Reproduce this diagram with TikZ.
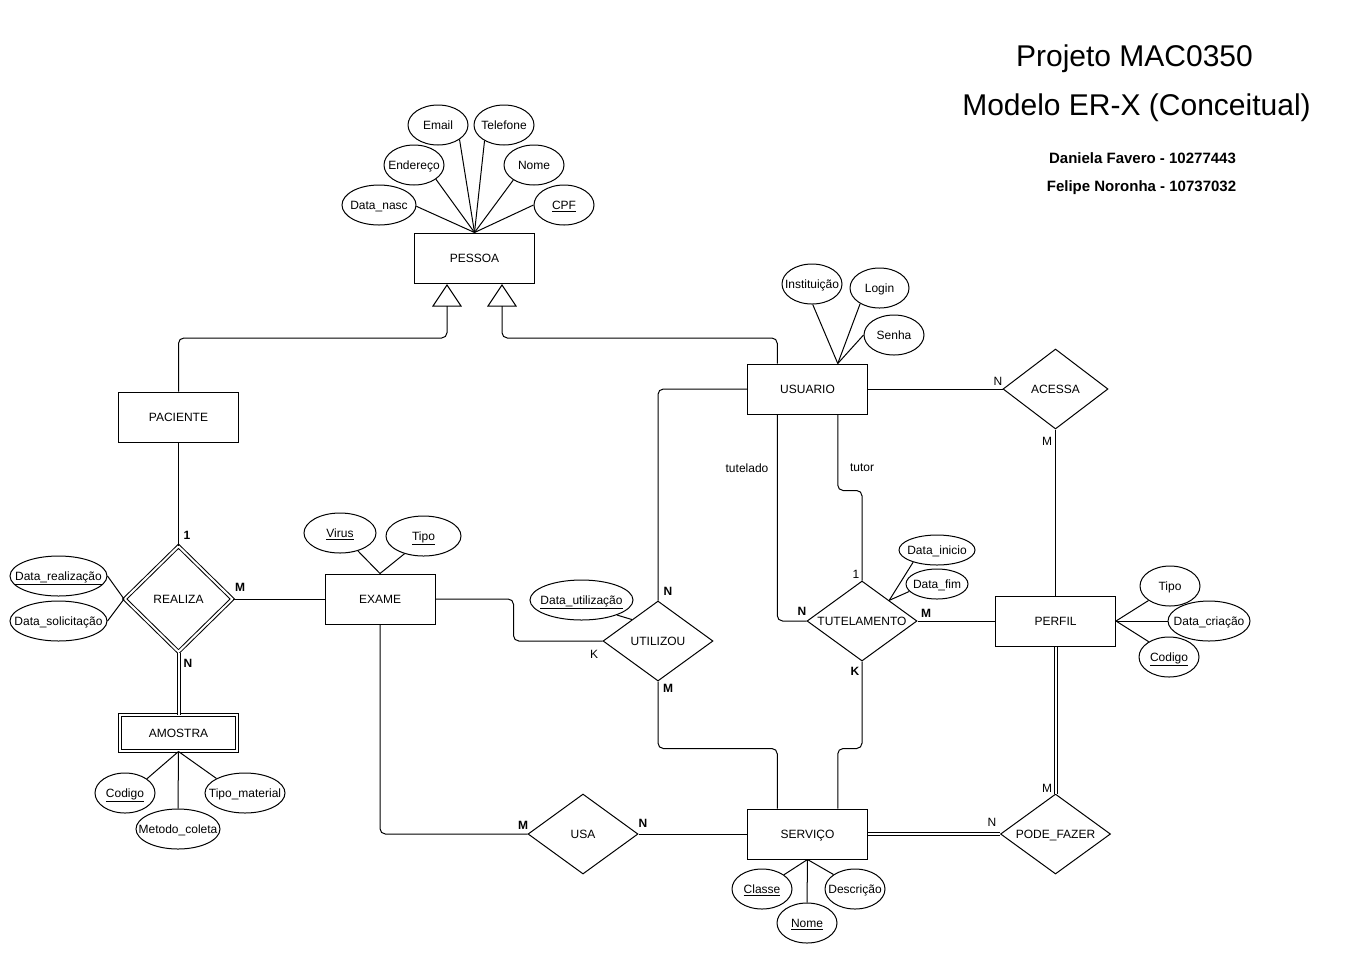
\documentclass[tikz,border=0pt]{standalone}
\usepackage{fontspec}
\setmainfont{Liberation Sans}
\usetikzlibrary{shapes.geometric,calc}
\newcommand{\zt}[1]{\makebox[0pt][c]{#1}}
\begin{document}
\begin{tikzpicture}[x=0.75pt,y=-0.75pt,
 every node/.style={font=\fontsize{9}{11}\selectfont},
 line width=0.75pt,
 fixtext/.style={text height=6.5pt, text depth=0pt},
 ent/.style={draw, rectangle, minimum width=90pt, minimum height=37.5pt, inner sep=0pt, fixtext},
 rel/.style={draw, diamond, minimum width=82.5pt, minimum height=60pt, inner sep=0pt, aspect=1.375, fixtext},
 att/.style={draw, ellipse, minimum width=45pt, minimum height=30pt, inner sep=0pt, fixtext},
 card/.style={font=\fontsize{9}{11}\selectfont, inner sep=0pt},
 bcard/.style={font=\fontsize{9}{11}\selectfont\bfseries, inner sep=0pt},
 dbl/.style={double, double distance=1.5pt},
 conn/.style={rounded corners=4pt},
 title/.style={font=\fontsize{22.5}{27}\selectfont, text height=16pt, text depth=0pt, inner sep=0pt},
 author/.style={font=\fontsize{11.25}{13}\selectfont\bfseries, text height=8pt, text depth=0pt, inner sep=0pt}]
\useasboundingbox (0,0) rectangle (1358,954);

% titles
\node[title] (tt1) at (1134.5,56) {Projeto MAC0350};
\node[title] (tt2) at (1136.5,105) {Modelo ER-X (Conceitual)};
\node[author] (au1) at (1142.5,158) {Daniela Favero - 10277443};
\node[author] (au2) at (1141.5,186) {Felipe Noronha - 10737032};

% entities
\node[ent] (pes) at (474.5,258) {PESSOA};
\node[ent] (pac) at (178.5,417) {PACIENTE};
\node[ent] (usr) at (807.5,389) {USUARIO};
\node[ent, minimum width=82.5pt] (exa) at (380,599) {EXAME};
\node[ent, dbl, minimum width=87.75pt, minimum height=27pt] (amo) at (178.5,733) {AMOSTRA};
\node[ent] (per) at (1055.5,621) {PERFIL};
\node[ent] (srv) at (807.5,834) {SERVIÇO};

% relationships
\node[rel, dbl, minimum width=81pt, minimum height=79.5pt, aspect=1] (rea) at (178.5,599) {\zt{REALIZA}};
\node[rel] (uti) at (658,641) {\zt{UTILIZOU}};
\node[rel] (tut) at (862,621) {\zt{TUTELAMENTO}};
\node[rel, minimum width=78.75pt] (ace) at (1055.5,389) {\zt{ACESSA}};
\node[rel] (usa) at (583,834) {\zt{USA}};
\node[rel] (pod) at (1055.5,834) {\zt{PODE\_FAZER}};

% attributes
\node[att] (email) at (438,125) {\zt{Email}};
\node[att] (tel) at (504,125) {\zt{Telefone}};
\node[att] (ender) at (414,165) {\zt{Endereço}};
\node[att] (nome) at (534,165) {\zt{Nome}};
\node[att, minimum width=55.5pt] (dnasc) at (379,205) {\zt{Data\_nasc}};
\node[att] (cpf) at (564,205) {\zt{\underline{CPF}}};

\node[att] (inst) at (812,284) {\zt{Instituição}};
\node[att, minimum width=44.25pt] (login) at (879.5,288) {\zt{Login}};
\node[att] (senha) at (894,335) {\zt{Senha}};

\node[att, minimum width=57pt, minimum height=22.5pt] (dini) at (937,550) {\zt{Data\_inicio}};
\node[att, minimum width=46.5pt, minimum height=22.5pt] (dfim) at (937,584) {\zt{Data\_fim}};
\node[att, minimum width=77.25pt] (duti) at (581.5,600) {\zt{\underline{Data\_utilização}}};
\node[att, minimum width=54pt] (vir) at (340,533) {\zt{\underline{Virus}}};
\node[att, minimum width=56.25pt] (tipe) at (423.5,536) {\zt{\underline{Tipo}}};
\node[att, minimum width=72.75pt] (drea) at (58.5,576) {\zt{\underline{Data\_realização}}};
\node[att, minimum width=72.75pt] (dsol) at (58.5,621) {\zt{Data\_solicitação}};
\node[att] (coda) at (125,793) {\zt{\underline{Codigo}}};
\node[att, minimum width=63pt] (met) at (178,829) {\zt{Metodo\_coleta}};
\node[att, minimum width=60pt] (tipm) at (245,793) {\zt{Tipo\_material}};
\node[att] (cla) at (762,889) {\zt{\underline{Classe}}};
\node[att] (nms) at (807,923) {\zt{\underline{Nome}}};
\node[att] (des) at (855,889) {\zt{Descrição}};
\node[att] (tipp) at (1170,586) {\zt{Tipo}};
\node[att, minimum width=61.5pt] (dcri) at (1209,621) {\zt{Data\_criação}};
\node[att] (codp) at (1169,657) {\zt{\underline{Codigo}}};

% attribute links
\draw (pes.north) -- (email.-34);
\draw (pes.north) -- (tel.-141);
\draw (pes.north) -- (ender.-33);
\draw (pes.north) -- (nome.-144);
\draw (pes.north) -- (dnasc.-2);
\draw (pes.north) -- (cpf.west);

\coordinate (usrA) at ($(usr.north west)!0.75!(usr.north east)$);
\draw (usrA) -- (inst.-88);
\draw (usrA) -- (login.-141);
\draw (usrA) -- (senha.west);

\coordinate (tutA) at ($(tut.north)!0.49!(tut.east)$);
\draw (tutA) -- (dini.-153);
\draw (tutA) -- (dfim.-165);

\coordinate (utiA) at ($(uti.west)!0.53!(uti.north)$);
\draw (utiA) -- (duti.-23);

\draw (exa.north) -- (vir.-45);
\draw (exa.north) -- (tipe.-137);

\draw (rea.west) -- (drea.east);
\draw (rea.west) -- (dsol.east);

\draw (amo.south) -- (coda.33);
\draw (amo.south) -- (met.north);
\draw (amo.south) -- (tipm.153);

\draw (srv.south) -- (cla.33);
\draw (srv.south) -- (nms.north);
\draw (srv.south) -- (des.146);

\draw (per.east) -- (tipp.-146);
\draw (per.east) -- (dcri.west);
\draw (per.east) -- (codp.143);

% inheritance
\coordinate (ih1) at (447,306);
\coordinate (ih2) at (502,306);
\draw[fill=white] (ih1) ++(-14,0) -- ++(14,-21) -- ++(14,21) -- cycle;
\draw[fill=white] (ih2) ++(-14,0) -- ++(14,-21) -- ++(14,21) -- cycle;
\draw[conn] (ih1) -- ++(0,32) -| (pac.north);
\draw[conn] (ih2) -- ++(0,32) -| ($(usr.north west)!0.25!(usr.north east)$);

% relationship links
\draw (pac.south) -- (rea.north);
\draw (rea.east) -- (exa.west);
\draw[dbl] (rea.south) -- (amo.north);

\draw[conn] (usr.west) -| (uti.north);
\draw[conn] ($(usr.south west)!0.25!(usr.south east)$) |- (tut.west);
\draw[conn] ($(usr.south west)!0.75!(usr.south east)$) -- ++(0,76) -| (tut.north);
\draw (usr.east) -- (ace.west);
\draw (ace.south) -- (per.north);

\draw (tut.east) -- (per.west);
\draw[conn] (tut.south) -- ++(0,87) -| ($(srv.north west)!0.75!(srv.north east)$);
\draw[conn] (uti.south) -- ++(0,67) -| ($(srv.north west)!0.25!(srv.north east)$);
\draw[conn] (exa.east) -- ++(78,0) |- (uti.west);
\draw[conn] (exa.south) |- (usa.west);
\draw (usa.east) -- (srv.west);
\draw[dbl] (srv.east) -- (pod.west);
\draw[dbl] (per.south) -- (pod.north);

% cardinalities and roles
\node[bcard] (c1) at (187,535) {1};
\node[bcard] (c2) at (240,587) {M};
\node[bcard] (c3) at (188,663) {N};
\node[bcard] (c4) at (668,591) {N};
\node[card] (c5) at (594,654) {K};
\node[bcard] (c6) at (668,688) {M};
\node[card] (c7) at (856,574) {1};
\node[bcard] (c8) at (802,611) {N};
\node[bcard] (c9) at (926,613) {M};
\node[bcard] (c10) at (855,671) {K};
\node[card] (c11) at (998,381) {N};
\node[card] (c12) at (1047,441) {M};
\node[bcard] (c13) at (523,825) {M};
\node[bcard] (c14) at (643,823) {N};
\node[card] (c15) at (992,822) {N};
\node[card] (c16) at (1047,788) {M};
\node[card] (r1) at (747,468) {tutelado};
\node[card] (r2) at (862,468) {tutor};
\end{tikzpicture}
\end{document}
